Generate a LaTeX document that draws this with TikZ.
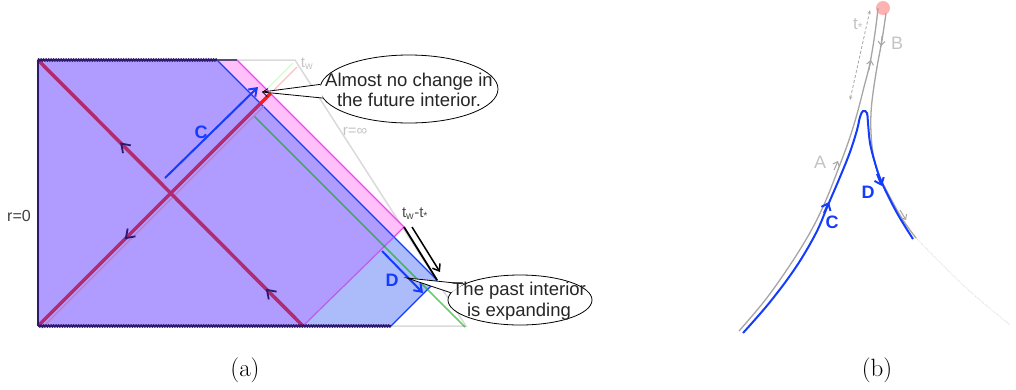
\documentclass[tikz,border=0pt]{standalone}
\usepackage{fontspec}
\usepackage{tikz}
\usetikzlibrary{shapes,arrows.meta,calc,decorations.markings,decorations.pathmorphing}
\usepackage{xcolor}
\newfontfamily\helv{Liberation Sans}

\definecolor{bulkpurple}{RGB}{176,155,255}
\definecolor{pastblue}{RGB}{172,188,250}
\definecolor{shellpink}{RGB}{255,192,250}
\definecolor{shellmag}{RGB}{240,70,240}
\definecolor{horviolet}{RGB}{190,90,240}
\definecolor{crimson}{RGB}{178,42,112}
\definecolor{navy}{RGB}{45,25,110}
\definecolor{probe}{RGB}{20,60,250}
\definecolor{faintgrey}{RGB}{218,218,218}
\definecolor{sheetgrey}{RGB}{165,165,165}
\definecolor{labelgrey}{RGB}{195,195,195}

\begin{document}
\begin{tikzpicture}[
    x=1pt, y=-1pt,
    every node/.style={font=\helv},
    wall/.style={navy, line width=2.2pt, decorate, decoration={zigzag, segment length=2.5pt, amplitude=0.5pt}},
    geod/.style={crimson, line width=3.5pt},
    rim/.style={probe, line width=1.3pt},
    probearrow/.style={probe, line width=2pt, -{Straight Barb[length=7pt,width=10pt]}},
    sheet/.style={sheetgrey, line width=1.3pt},
    sheetarrow/.style={sheetgrey, line width=1pt, -{Straight Barb[length=4pt,width=7pt]}},
    bluearrow/.style={probe, line width=2pt, -{Straight Barb[length=6pt,width=10pt]}},
    bubble/.style={ellipse, draw, fill=white, line width=0.8pt, inner sep=0pt},
    bubbletext/.style={font=\helv\fontsize{18.5}{20.5}\selectfont, align=center, text=black!85},
    probelabel/.style={font=\helv\bfseries\fontsize{18}{20}\selectfont, text=probe},
    greylabel/.style={font=\helv\fontsize{15}{17}\selectfont, text=labelgrey},
    panellabel/.style={font=\fontsize{25}{30}\selectfont}
]
\useasboundingbox (0,0) rectangle (1016,389);

% Panel (a) - corner points of the diagram
\coordinate (tl) at (38,60);
\coordinate (bl) at (38,326);
\coordinate (rimtop) at (217,60);
\coordinate (shelltop) at (237,60);
\coordinate (twtop) at (295,60);
\coordinate (horbot) at (303,326);
\coordinate (pastcorner) at (394,237);
\coordinate (shellbot) at (404,227);
\coordinate (tip) at (437,280);
\coordinate (pastbot) at (391,326);
\coordinate (infbot) at (466,326);
\coordinate (hitrim) at (260.5,103.5);
\coordinate (hitshell) at (270.5,93.5);

% Faint background diagram
\draw[faintgrey, line width=1.5pt] (shelltop) -- (twtop) -- (infbot) -- (pastbot);
\draw[red!25, line width=1.2pt] (268,96) -- (297,67);
\draw[green!20, line width=1.2pt] (266,90) -- (293,63);

% Regions
\fill[bulkpurple] (tl) -- (rimtop) -- (pastcorner) -- (horbot) -- (bl) -- cycle;
\fill[shellpink] (rimtop) -- (shelltop) -- (shellbot) -- (pastcorner) -- cycle;
\fill[pastblue] (horbot) -- (pastcorner) -- (tip) -- (pastbot) -- cycle;

% Boundaries
\draw[shellmag, line width=1.2pt] (shelltop) -- (shellbot) -- (pastcorner);
\draw[rim] (rimtop) -- (tip) -- (pastbot);
\draw[horviolet, line width=1.2pt] (horbot) -- (pastcorner);
\draw[green!70!black, opacity=0.6, line width=1.5pt] (254,116) -- (465,327);

% Null geodesics
\draw[blue!40!purple!50, line width=1.2pt] (42,328) -- (264,106);
\draw[geod, postaction={decorate}, decoration={markings,
    mark=at position 0.31 with {\arrowreversed[navy, line width=1.8pt]{Straight Barb[length=8pt,width=11pt]}},
    mark=at position 0.86 with {\arrowreversed[navy, line width=1.8pt]{Straight Barb[length=8pt,width=11pt]}}}]
    (tl) -- (horbot);
\draw[geod, postaction={decorate}, decoration={markings,
    mark=at position 0.39 with {\arrowreversed[navy, line width=1.8pt]{Straight Barb[length=8pt,width=11pt]}}}]
    (bl) -- (hitrim);
\draw[red!90!white, line width=3.5pt] (hitrim) -- (hitshell);

% Singularities and r=0
\draw[wall] (tl) -- (rimtop);
\draw[navy!50!gray, line width=2pt] (rimtop) -- (shelltop);
\draw[wall] (bl) -- (pastbot);
\draw[navy, line width=2pt] (tl) -- (bl);

% Probes
\coordinate (cstart) at (165,178);
\coordinate (cend) at (258,87);
\draw[probearrow] (cstart) -- (cend);
\node[probelabel] (clabel) at (201,132) {C};
\coordinate (dstart) at (382,251);
\coordinate (dend) at (423,293);
\draw[probearrow] (dstart) -- (dend);
\node[probelabel] (dlabel) at (392,280) {D};

% Shift t_w - t_*
\coordinate (shiftstart) at (412,227);
\coordinate (shiftend) at (440,272);
\draw[black, line width=1.8pt] (shellbot) -- (tip);
\draw[black, line width=1.5pt, -{Straight Barb[length=6pt,width=9pt]}] (shiftstart) -- (shiftend);
\node[font=\helv\fontsize{15}{17}\selectfont, text=black!70] (shiftlabel) at (415,214) {t\textsubscript{w}-t\textsubscript{*}};

% Callouts
\node[bubble, minimum width=178pt, minimum height=68pt] (futurebubble) at (409,89) {};
\coordinate (futuretip) at (262,92);
\fill[white] (futurebubble.177) -- (futuretip) -- (futurebubble.186) -- cycle;
\draw[line width=0.8pt] (futurebubble.177) -- (futuretip);
\draw[line width=0.8pt, -{Straight Barb[length=5pt,width=8pt]}] (futurebubble.186) -- (futuretip);
\node[bubbletext] (futuretext) at (409,90) {Almost no change in\\the future interior.};

\node[bubble, minimum width=144pt, minimum height=50pt] (pastbubble) at (520,300) {};
\coordinate (pasttip) at (407,278);
\fill[white] (pastbubble.164) -- (pasttip) -- (pastbubble.174) -- cycle;
\draw[line width=0.8pt] (pastbubble.164) -- (pasttip) -- (pastbubble.174);
\node[bubbletext] (pasttext) at (519,301) {The past interior\\is expanding};

% Labels of panel (a)
\node[greylabel] (twlabel) at (307,64) {t\textsubscript{w}};
\node[greylabel] (rinflabel) at (355,131) {r=∞};
\node[font=\helv\fontsize{16}{18}\selectfont, text=black!75] (r0label) at (19,216) {r=0};
\node[panellabel] (capa) at (245,370) {(a)};

% Panel (b) - grey sheets
\node[circle, fill=red!30, minimum size=14pt, inner sep=0pt] (cusp) at (883,8) {};
\draw[sheet] plot[smooth, tension=0.6] coordinates {(739,331) (766,299) (792,262) (812,229) (826,200) (839,167) (849,140) (857,114) (864,87) (870,63) (875,33) (878,8)};
\draw[sheet] plot[smooth, tension=0.6] coordinates {(886,13) (882,40) (877,67) (873,93) (871,113) (871,133) (873,153) (878,173) (890,197) (903,220) (916,238)};
\coordinate (sheetend) at (916,238);
\coordinate (tailend) at (1010,325);
\draw[faintgrey, densely dotted, line width=0.8pt] (sheetend) .. controls (965,288) .. (tailend);

% Panel (b) - blue probe
\draw[probe, line width=2pt] plot[smooth, tension=0.6] coordinates {(743,333) (770,302) (796,267) (816,233) (828,205) (840,177) (850,152) (857,130) (860,117) (863,111) (867,113) (868,123) (870,143) (875,163) (882,183) (897,213) (913,239)};

% Panel (b) - arrows
\draw[sheetarrow] (869,70) -- (871,60);
\draw[sheetarrow] (882,36) -- (881,46);
\draw[sheetarrow] (834,170) -- (838,161);
\draw[sheetarrow] (900,210) -- (906,220);
\draw[bluearrow] (824,213) -- (829,202);
\draw[bluearrow] (877,174) -- (882,186);
\coordinate (tstartop) at (870,10);
\coordinate (tstarbot) at (850,100);
\draw[sheetgrey, densely dashed, line width=0.8pt, {Stealth[length=4pt]}-{Stealth[length=4pt]}] (tstarbot) -- (tstartop);

% Labels of panel (b)
\node[greylabel, font=\helv\fontsize{17}{19}\selectfont] (tstarlabel) at (858,25) {t\textsubscript{*}};
\node[greylabel, font=\helv\fontsize{18}{20}\selectfont] (blabel) at (897,43) {B};
\node[greylabel, font=\helv\fontsize{18}{20}\selectfont] (alabel) at (820,162) {A};
\node[probelabel] (clabelb) at (832,222) {C};
\node[probelabel] (dlabelb) at (868,192) {D};
\node[panellabel] (capb) at (877,370) {(b)};

\end{tikzpicture}
\end{document}
